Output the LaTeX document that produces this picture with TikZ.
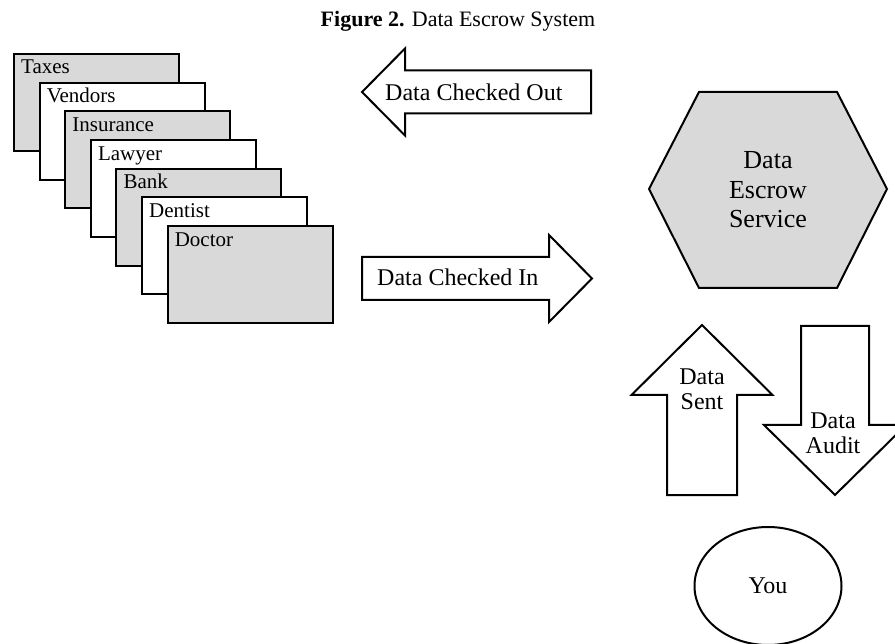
\documentclass[tikz,border=0pt]{standalone}
\usepackage{fontspec}
\setmainfont{Liberation Serif}
\usetikzlibrary{shapes,arrows,positioning}
\colorlet{boxgray}{black!15}

\begin{document}
\begin{tikzpicture}[x=1pt,y=-1pt]
\tikzset{
  frame/.style={draw,line width=2pt,line join=miter},
  record/.style={frame,rectangle,anchor=north west,minimum width=165pt,minimum height=97pt,inner sep=0pt},
  tag/.style={anchor=base west,inner sep=0pt,font=\fontsize{21}{25}\selectfont},
  say/.style={inner sep=0pt,align=center,font=\fontsize{24}{25}\selectfont},
  blockarrow/.style={frame,fill=white}
}
\useasboundingbox (0,0) rectangle (895,644);
\node[inner sep=0pt,anchor=base,font=\fontsize{22}{26}\selectfont] (title) at (458,27) {\textbf{Figure 2.} Data Escrow System};

% stacked record cards
\foreach \name/\tone [count=\i from 0] in {Taxes/boxgray,Vendors/white,Insurance/boxgray,Lawyer/white,Bank/boxgray,Dentist/white,Doctor/boxgray} {
  \node[record,fill=\tone] (rec\i) at (13+25.6*\i,53+28.7*\i) {};
  \node[tag] (tag\i) at ([shift={(8,21)}]rec\i.north west) {\name};
}

% check out / check in
\draw[blockarrow] (362,92) -- ++(43,-43.5) -- ++(0,22) -- ++(186,0) -- ++(0,43) -- ++(-186,0) -- ++(0,22) -- cycle;
\node[say,anchor=base west] (out) at (385,101) {Data Checked Out};
\draw[blockarrow] (592,278.5) -- ++(-43,-43.5) -- ++(0,22) -- ++(-187,0) -- ++(0,43) -- ++(187,0) -- ++(0,22) -- cycle;
\node[say,anchor=base west] (in) at (377,286) {Data Checked In};

% escrow service
\draw[frame,fill=boxgray] (649,189) -- (699,92) -- (837,92) -- (887,189) -- (837,288) -- (699,288) -- cycle;
\node[say,font=\fontsize{26}{29.5}\selectfont] (escrow) at (768,190) {Data\\Escrow\\Service};

% sent / audit
\draw[blockarrow] (702,325) -- ++(70.5,70) -- ++(-35.5,0) -- ++(0,100) -- ++(-70,0) -- ++(0,-100) -- ++(-35.5,0) -- cycle;
\node[say] (sent) at (702,389) {Data\\Sent};
\draw[blockarrow] (835,495) -- ++(71,-70) -- ++(-37,0) -- ++(0,-99) -- ++(-68,0) -- ++(0,99) -- ++(-37,0) -- cycle;
\node[say] (audit) at (833,433) {Data\\Audit};

\node[frame,ellipse,minimum width=147pt,minimum height=118pt,inner sep=0pt,font=\fontsize{24}{25}\selectfont] (you) at (768,586) {You};
\end{tikzpicture}
\end{document}
